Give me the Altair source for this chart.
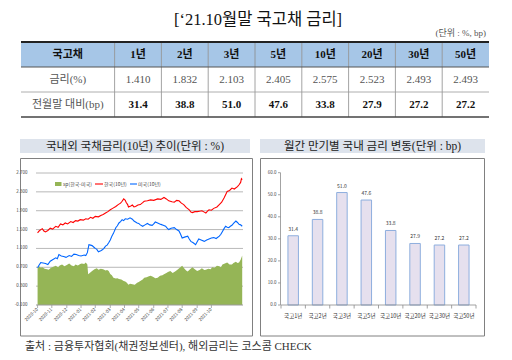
import altair as alt
import pandas as pd

# ---------------- data ----------------
title_text = "[‘21.10월말 국고채 금리]"
unit_text = "(단위 : %, bp)"
table_corner = "국고채"
tenors = ["1년", "2년", "3년", "5년", "10년", "20년", "30년", "50년"]
row_labels = ["금리(%)", "전월말 대비(bp)"]
rates = [1.410, 1.832, 2.103, 2.405, 2.575, 2.523, 2.493, 2.493]
changes_bp = [31.4, 38.8, 51.0, 47.6, 33.8, 27.9, 27.2, 27.2]

left_title = "국내외 국채금리(10년) 추이(단위 : %)"
right_title = "월간 만기별 국내 금리 변동(단위 : bp)"
footer_text = "출처 : 금융투자협회(채권정보센터), 해외금리는 코스콤 CHECK"
series_names = ["sp(한국-미국)", "한국(10년)", "미국(10년)"]

kr_day = [0, 2, 4, 6, 8, 10, 13, 16, 19, 23, 26, 29, 32, 35, 38, 42, 45, 48, 51, 54, 58, 61, 64, 67, 70,
          73, 77, 80, 83, 86, 89, 92, 95, 99, 102, 105, 107, 109, 111, 112, 114, 115, 118, 120, 122, 124,
          127, 130, 133, 135, 139, 143, 147, 152, 156, 160, 163, 166, 170, 173, 176, 179, 182, 185, 188,
          192, 194, 196, 199, 202, 205, 208, 211, 213, 215, 217, 220, 223, 227, 230, 233, 236, 238, 240,
          243, 246, 249, 253, 255, 257, 258, 259]
kr_val = [1.43, 1.47, 1.50, 1.52, 1.47, 1.45, 1.48, 1.53, 1.51, 1.57, 1.55, 1.62, 1.60, 1.64, 1.62, 1.67,
          1.65, 1.69, 1.68, 1.71, 1.70, 1.73, 1.72, 1.76, 1.74, 1.78, 1.77, 1.80, 1.82, 1.85, 1.88, 1.92,
          1.95, 1.99, 2.03, 2.06, 2.10, 2.15, 2.12, 2.08, 2.03, 1.98, 2.00, 2.02, 1.98, 1.99, 2.02, 2.03,
          2.07, 2.10, 2.11, 2.13, 2.12, 2.15, 2.14, 2.18, 2.15, 2.11, 2.09, 2.08, 2.12, 2.11, 2.06, 2.03,
          1.97, 1.92, 1.87, 1.86, 1.88, 1.88, 1.89, 1.90, 1.87, 1.85, 1.89, 1.92, 1.91, 1.95, 1.98, 2.03,
          2.08, 2.17, 2.24, 2.31, 2.33, 2.38, 2.36, 2.41, 2.45, 2.50, 2.58, 2.56]

us_day = [0, 2, 4, 7, 10, 13, 16, 19, 23, 25, 27, 30, 33, 36, 40, 43, 46, 49, 52, 55, 59, 61, 63, 65, 67,
          69, 71, 73, 75, 77, 80, 82, 84, 86, 88, 90, 92, 94, 96, 99, 101, 103, 105, 107, 109, 111, 114,
          117, 120, 122, 124, 126, 128, 130, 133, 136, 139, 142, 145, 147, 149, 152, 156, 159, 162, 164,
          166, 169, 173, 176, 179, 181, 183, 186, 190, 192, 194, 197, 200, 202, 204, 207, 211, 214, 217,
          220, 223, 226, 230, 232, 234, 236, 238, 240, 242, 244, 246, 248, 251, 253, 255, 257, 259]
us_val = [0.69, 0.75, 0.80, 0.79, 0.78, 0.76, 0.83, 0.86, 0.90, 0.88, 0.97, 0.94, 0.93, 0.91, 0.95, 0.93,
          0.98, 0.97, 0.95, 0.94, 0.96, 0.95, 1.01, 1.18, 1.17, 1.16, 1.13, 1.10, 1.08, 1.03, 1.05, 1.07,
          1.10, 1.15, 1.17, 1.22, 1.28, 1.36, 1.42, 1.54, 1.58, 1.64, 1.67, 1.71, 1.69, 1.73, 1.72, 1.75,
          1.72, 1.68, 1.66, 1.64, 1.63, 1.60, 1.57, 1.60, 1.63, 1.60, 1.59, 1.62, 1.66, 1.64, 1.61, 1.59,
          1.57, 1.53, 1.50, 1.53, 1.54, 1.50, 1.47, 1.40, 1.32, 1.34, 1.36, 1.30, 1.25, 1.22, 1.18, 1.24,
          1.30, 1.28, 1.25, 1.28, 1.30, 1.32, 1.33, 1.31, 1.36, 1.40, 1.46, 1.52, 1.57, 1.55, 1.54, 1.57,
          1.59, 1.63, 1.68, 1.65, 1.61, 1.60, 1.57]

sp_day = [0, 2, 4, 6, 9, 12, 14, 17, 20, 23, 26, 28, 31, 34, 37, 40, 43, 46, 48, 51, 54, 56, 59, 61, 63,
          64, 66, 69, 72, 75, 77, 80, 83, 86, 88, 90, 92, 94, 96, 99, 101, 103, 106, 109, 111, 113, 115,
          117, 120, 123, 126, 128, 130, 133, 135, 138, 141, 143, 146, 149, 152, 155, 158, 160, 163, 165,
          168, 171, 174, 177, 180, 183, 186, 188, 190, 193, 196, 199, 202, 205, 208, 211, 213, 216, 219,
          221, 224, 227, 230, 232, 234, 237, 240, 243, 246, 248, 251, 253, 255, 257, 259]
sp_val = [0.68, 0.72, 0.69, 0.70, 0.67, 0.66, 0.65, 0.69, 0.71, 0.73, 0.70, 0.74, 0.76, 0.72, 0.75, 0.78,
          0.74, 0.72, 0.76, 0.74, 0.77, 0.78, 0.77, 0.80, 0.76, 0.55, 0.58, 0.62, 0.66, 0.68, 0.65, 0.67,
          0.66, 0.63, 0.64, 0.62, 0.56, 0.53, 0.48, 0.46, 0.47, 0.45, 0.44, 0.41, 0.40, 0.37, 0.33, 0.35,
          0.34, 0.33, 0.37, 0.39, 0.41, 0.44, 0.48, 0.49, 0.51, 0.52, 0.50, 0.47, 0.48, 0.52, 0.53, 0.55,
          0.58, 0.60, 0.62, 0.58, 0.61, 0.65, 0.69, 0.73, 0.67, 0.63, 0.61, 0.66, 0.70, 0.66, 0.62, 0.64,
          0.68, 0.64, 0.65, 0.67, 0.66, 0.70, 0.69, 0.73, 0.72, 0.70, 0.76, 0.78, 0.80, 0.76, 0.76, 0.79,
          0.82, 0.79, 0.80, 0.86, 0.95]

left_yticks = [-0.1, 0.3, 0.7, 1.1, 1.5, 1.9, 2.3, 2.7]
left_xtick_day = [0, 18, 37, 55, 73, 92, 110, 128, 147, 165, 183, 202, 220]
left_xtick_lbl = ["2020-10", "2020-11", "2020-12", "2021-01", "2021-02", "2021-03", "2021-04",
                  "2021-05", "2021-06", "2021-07", "2021-08", "2021-09", "2021-10"]
left_xdomain = [-2, 260]

bar_labels = ["국고1년", "국고2년", "국고3년", "국고5년", "국고10년", "국고20년", "국고30년", "국고50년"]
right_yticks = [0, 10, 20, 30, 40, 50, 60]

# ---------------- styling ----------------
SERIF = "Liberation Serif, Noto Sans CJK KR"
SANS = "Noto Sans CJK KR, Noto Sans"
W, H = 496, 344
one = pd.DataFrame({"k": [0]})


def deco_rect(x, x2, y, y2, **kw):
    return alt.Chart(one).mark_rect(**kw).encode(
        x=alt.value(x), x2=alt.value(x2), y=alt.value(y), y2=alt.value(y2))


def deco_rule(x, x2, y, **kw):
    return alt.Chart(one).mark_rule(**kw).encode(
        x=alt.value(x), x2=alt.value(x2), y=alt.value(y))


def deco_text(txt, x, y, **kw):
    return alt.Chart(pd.DataFrame({"t": [txt]})).mark_text(**kw).encode(
        x=alt.value(x), y=alt.value(y), text="t:N")


layers = []

# ---- title ----
layers.append(deco_text(title_text, 250, 11.5, font=SERIF, fontSize=16.5, color="#111111"))
layers.append(deco_text(unit_text, 478, 25, font=SERIF, fontSize=9, color="#555555", align="right"))

# ---- table ----
tx = alt.Scale(domain=[0, 10], range=[13, 481], nice=False, zero=False)
ty = alt.Scale(domain=[0, 3], range=[34, 109], nice=False, zero=False)

rows = [("head", 0, 2, 0, table_corner)]
rows += [("head", i + 2, i + 3, 0, t) for i, t in enumerate(tenors)]
rows += [("label", 0, 2, 1, row_labels[0])]
rows += [("rate", i + 2, i + 3, 1, f"{v:.3f}") for i, v in enumerate(rates)]
rows += [("label", 0, 2, 2, row_labels[1])]
rows += [("chg", i + 2, i + 3, 2, f"{v:.1f}") for i, v in enumerate(changes_bp)]
cells = pd.DataFrame(rows, columns=["kind", "c0", "c1", "r", "text"])
cells["r1"] = cells["r"] + 1
cells["cm"] = (cells["c0"] + cells["c1"]) / 2
cells["rm"] = cells["r"] + 0.5

head = cells[cells.kind == "head"]
layers.append(alt.Chart(head).mark_rect(fill="#a6c6e7").encode(
    x=alt.X("c0:Q", scale=tx, axis=None), x2="c1",
    y=alt.Y("r:Q", scale=ty, axis=None), y2="r1"))

vlines = pd.DataFrame({"c": list(range(2, 10)), "r0": 0, "r1": 3})
layers.append(alt.Chart(vlines).mark_rule(color="#8c8c8c", strokeWidth=0.8).encode(
    x=alt.X("c:Q", scale=tx, axis=None),
    y=alt.Y("r0:Q", scale=ty, axis=None), y2="r1"))

for rr, col, sw in [(0, "#222222", 2), (1, "#555555", 1.2), (2, "#9a9a9a", 0.8), (3, "#444444", 1.5)]:
    layers.append(alt.Chart(pd.DataFrame({"r": [rr], "a": [0], "b": [10]})).mark_rule(
        color=col, strokeWidth=sw).encode(
        x=alt.X("a:Q", scale=tx, axis=None), x2="b",
        y=alt.Y("r:Q", scale=ty, axis=None)))

for kind, weight, col, fs in [("head", "bold", "#111111", 11), ("label", "normal", "#555555", 11),
                              ("rate", "normal", "#555555", 11), ("chg", "bold", "#111111", 11)]:
    layers.append(alt.Chart(cells[cells.kind == kind]).mark_text(
        font=SERIF, fontSize=fs, fontWeight=weight, color=col).encode(
        x=alt.X("cm:Q", scale=tx, axis=None),
        y=alt.Y("rm:Q", scale=ty, axis=None), text="text:N"))

# ---- left panel ----
layers.append(deco_rect(12, 242, 131, 145, fill="#dde3ec"))
layers.append(deco_text(left_title, 127, 138.5, font=SERIF, fontSize=11.5, color="#222222"))
layers.append(deco_rect(12.5, 244.5, 150.5, 328, fill="#ffffff", fillOpacity=0, stroke="#808080", strokeWidth=1))

lx = alt.Scale(domain=left_xdomain, range=[28, 235], nice=False, zero=False)
ly = alt.Scale(domain=[left_yticks[0], left_yticks[-1]], range=[297, 165], nice=False, zero=False)

grid_df = pd.DataFrame({"v": left_yticks[1:], "a": left_xdomain[0], "b": left_xdomain[1]})
layers.append(alt.Chart(grid_df).mark_rule(color="#a6a6a6", strokeWidth=0.8).encode(
    x=alt.X("a:Q", scale=lx, axis=None), x2="b", y=alt.Y("v:Q", scale=ly, axis=None)))

sp_df = pd.DataFrame({"d": sp_day, "v": sp_val, "base": left_yticks[0]})
layers.append(alt.Chart(sp_df).mark_area(color="#95b556").encode(
    x=alt.X("d:Q", scale=lx, axis=None), y=alt.Y("v:Q", scale=ly, axis=None), y2="base"))

kr_df = pd.DataFrame({"d": kr_day, "v": kr_val})
layers.append(alt.Chart(kr_df).mark_line(color="#ff0000", strokeWidth=1.1).encode(
    x=alt.X("d:Q", scale=lx, axis=None), y=alt.Y("v:Q", scale=ly, axis=None)))

us_df = pd.DataFrame({"d": us_day, "v": us_val})
layers.append(alt.Chart(us_df).mark_line(color="#0066ff", strokeWidth=1.1).encode(
    x=alt.X("d:Q", scale=lx, axis=None), y=alt.Y("v:Q", scale=ly, axis=None)))

xaxis_df = pd.DataFrame({"v": [left_yticks[0]], "a": left_xdomain[0], "b": left_xdomain[1]})
layers.append(alt.Chart(xaxis_df).mark_rule(color="#9a9a9a", strokeWidth=1).encode(
    x=alt.X("a:Q", scale=lx, axis=None), x2="b", y=alt.Y("v:Q", scale=ly, axis=None)))

ylab_df = pd.DataFrame({"v": left_yticks, "t": [f"{v:.3f}" for v in left_yticks]})
layers.append(alt.Chart(ylab_df).mark_text(font=SANS, fontSize=4.5, color="#444444", align="right").encode(
    x=alt.value(19.5), y=alt.Y("v:Q", scale=ly, axis=None), text="t:N"))

xt_df = pd.DataFrame({"d": left_xtick_day, "t": left_xtick_lbl})
layers.append(alt.Chart(xt_df).mark_rule(color="#9a9a9a", strokeWidth=0.8).encode(
    x=alt.X("d:Q", scale=lx, axis=None), y=alt.value(297), y2=alt.value(300)))
layers.append(alt.Chart(xt_df).mark_text(font=SANS, fontSize=4.5, color="#444444", align="right",
                                         baseline="middle", angle=315).encode(
    x=alt.X("d:Q", scale=lx, axis=None), y=alt.value(301), text="t:N"))

# legend
layers.append(deco_rect(47, 53.5, 174, 178, fill="#95b556"))
layers.append(deco_text(series_names[0], 55, 176, font=SANS, fontSize=5, color="#444444", align="left"))
layers.append(deco_rule(87, 95, 176, color="#ff0000", strokeWidth=1.1))
layers.append(deco_text(series_names[1], 96, 176, font=SANS, fontSize=5, color="#444444", align="left"))
layers.append(deco_rule(122, 129, 176, color="#0066ff", strokeWidth=1.1))
layers.append(deco_text(series_names[2], 130, 176, font=SANS, fontSize=5, color="#444444", align="left"))

# ---- right panel ----
layers.append(deco_rect(252, 477, 131, 145, fill="#dde3ec"))
layers.append(deco_text(right_title, 364.5, 138.5, font=SERIF, fontSize=11.5, color="#222222"))
layers.append(deco_rect(252.5, 476.5, 150.5, 328, fill="#ffffff", fillOpacity=0, stroke="#808080", strokeWidth=1))

rx = alt.Scale(domain=bar_labels, range=[273, 468], paddingInner=0.57, paddingOuter=0.285)
ry = alt.Scale(domain=[right_yticks[0], right_yticks[-1]], range=[297, 164.7], nice=False, zero=False)
rxq = alt.Scale(domain=[0, len(bar_labels)], range=[273, 468], nice=False, zero=False)

bar_df = pd.DataFrame({"cat": bar_labels, "v": changes_bp, "t": [f"{v:.1f}" for v in changes_bp]})
layers.append(alt.Chart(bar_df).mark_bar(fill="#e6e0ee", stroke="#8eaede", strokeWidth=1).encode(
    x=alt.X("cat:N", scale=rx, axis=None, sort=None), y=alt.Y("v:Q", scale=ry, axis=None)))
layers.append(alt.Chart(bar_df).mark_text(font=SANS, fontSize=5, color="#333333", dy=-7).encode(
    x=alt.X("cat:N", scale=rx, axis=None, sort=None), y=alt.Y("v:Q", scale=ry, axis=None), text="t:N"))

ryax = pd.DataFrame({"a": [right_yticks[0]], "b": [right_yticks[-1]]})
layers.append(alt.Chart(ryax).mark_rule(color="#8c8c8c", strokeWidth=0.8).encode(
    x=alt.value(272.5), y=alt.Y("a:Q", scale=ry, axis=None), y2="b"))
ryt = pd.DataFrame({"v": right_yticks, "t": [f"{v:.1f}" for v in right_yticks]})
layers.append(alt.Chart(ryt).mark_rule(color="#8c8c8c", strokeWidth=0.8).encode(
    x=alt.value(270), x2=alt.value(272.5), y=alt.Y("v:Q", scale=ry, axis=None)))
layers.append(alt.Chart(ryt).mark_text(font=SANS, fontSize=4.5, color="#444444", align="right").encode(
    x=alt.value(268.5), y=alt.Y("v:Q", scale=ry, axis=None), text="t:N"))

rxax = pd.DataFrame({"v": [right_yticks[0]], "a": [0], "b": [len(bar_labels)]})
layers.append(alt.Chart(rxax).mark_rule(color="#8c8c8c", strokeWidth=0.8).encode(
    x=alt.X("a:Q", scale=rxq, axis=None), x2="b", y=alt.Y("v:Q", scale=ry, axis=None)))
rxt = pd.DataFrame({"i": list(range(len(bar_labels) + 1))})
layers.append(alt.Chart(rxt).mark_rule(color="#8c8c8c", strokeWidth=0.8).encode(
    x=alt.X("i:Q", scale=rxq, axis=None), y=alt.value(297), y2=alt.value(300.5)))
layers.append(alt.Chart(bar_df).mark_text(font=SANS, fontSize=5.5, color="#333333").encode(
    x=alt.X("cat:N", scale=rx, axis=None, sort=None), y=alt.value(307.5), text="cat:N"))

# ---- footer ----
layers.append(deco_text(footer_text, 17, 339, font=SERIF, fontSize=11, color="#333333", align="left"))

chart = alt.layer(*layers).resolve_scale(
    x="independent", y="independent"
).properties(
    width=W, height=H, autosize=alt.AutoSizeParams(type="none"), padding=0
).configure_view(strokeWidth=0)

chart.save("out.html", embed_options={"renderer": "svg", "actions": False})
